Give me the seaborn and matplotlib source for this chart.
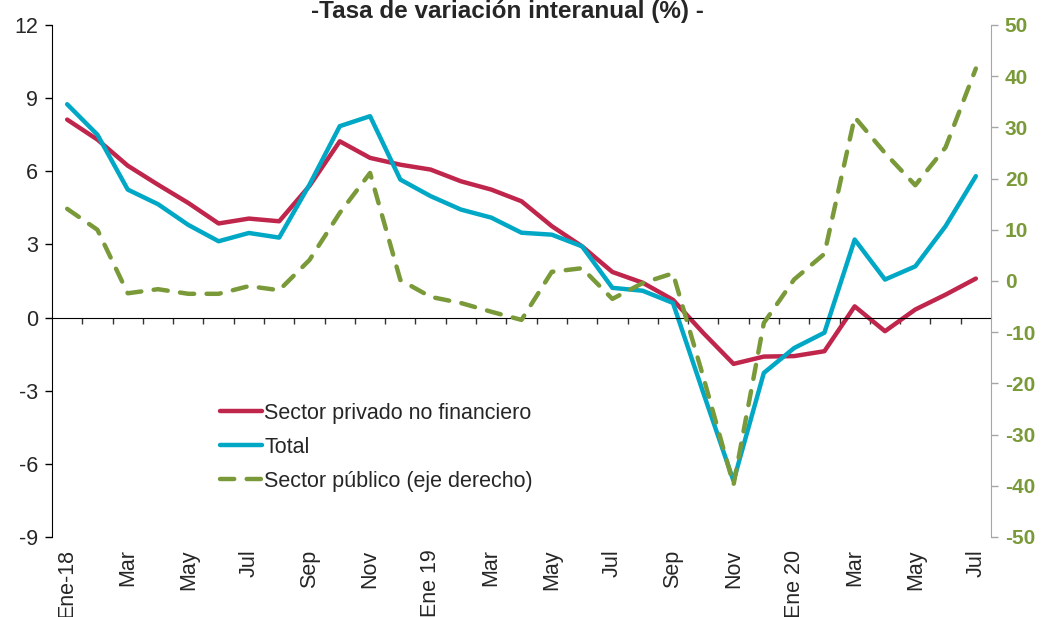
import numpy as np
import pandas as pd
import matplotlib
matplotlib.use("Agg")
import matplotlib.pyplot as plt
import seaborn as sns

# crédito: tasa de variación interanual (%), mensual ene-18 .. jul-20
meses = np.arange(31)
etiquetas = ['Ene-18', 'Mar', 'May', 'Jul', 'Sep', 'Nov', 'Ene 19', 'Mar', 'May', 'Jul',
             'Sep', 'Nov', 'Ene 20', 'Mar', 'May', 'Jul']
privado = [8.12, 7.3, 6.23, 5.45, 4.7, 3.86, 4.06, 3.95, 5.4, 7.23, 6.55, 6.27, 6.07, 5.59,
           5.25, 4.77, 3.75, 2.92, 1.87, 1.43, 0.73, -0.63, -1.9, -1.6, -1.58, -1.38, 0.46,
           -0.56, 0.33, 0.94, 1.6]
total = [8.75, 7.5, 5.25, 4.65, 3.8, 3.13, 3.47, 3.28, 5.45, 7.85, 8.26, 5.66, 4.98, 4.43,
         4.1, 3.48, 3.4, 2.92, 1.22, 1.1, 0.6, -3.08, -6.7, -2.27, -1.25, -0.62, 3.2, 1.56,
         2.1, 3.75, 5.8]
publico = [14.1, 10.0, -2.4, -1.6, -2.5, -2.5, -1.0, -1.8, 4.1, 13.3, 21.1, 0.2, -3.1, -4.3,
           -6.0, -7.6, 1.8, 2.5, -3.5, -0.4, 1.5, -18.7, -39.8, -8.2, 0.3, 5.3, 32.0, 25.0,
           18.7, 26.1, 41.5]

df = pd.DataFrame({'mes': meses, 'privado': privado, 'total': total, 'publico': publico})

sns.set_style("white")
plt.rcParams['font.family'] = ['Liberation Sans', 'DejaVu Sans']
plt.rcParams['axes.unicode_minus'] = False

rojo, cian, verde = '#C0254C', '#00A8C6', '#7A9A3A'

fig = plt.figure(figsize=(10.45, 6.17), dpi=100)
ax = fig.add_axes([52/1045, 1-537/617, (991-52)/1045, (537-25)/617])
ax2 = ax.twinx()

sns.lineplot(data=df, x='mes', y='privado', ax=ax, color=rojo, lw=3.2,
             solid_capstyle='round', solid_joinstyle='round')
sns.lineplot(data=df, x='mes', y='total', ax=ax, color=cian, lw=3.2,
             solid_capstyle='round', solid_joinstyle='round')
sns.lineplot(data=df, x='mes', y='publico', ax=ax2, color=verde, lw=3.2,
             linestyle=(0, (3.2, 2.8)), dash_capstyle='round', dash_joinstyle='round')

ax.set_xlim(-0.5, 30.5)
ax.set_ylim(-9, 12)
ax2.set_ylim(-50, 50)
ax.set_yticks(np.arange(-9, 13, 3))
ax2.set_yticks(np.arange(-50, 51, 10))
ax.set_xlabel(''); ax.set_ylabel(''); ax2.set_ylabel('')

# eje x en cero con marcas entre meses
ax.spines['bottom'].set_position(('data', 0))
ax.spines['bottom'].set_color('black')
ax.spines['top'].set_visible(False)
ax.spines['right'].set_visible(False)
ax.spines['left'].set_color('black')
ax.set_xticks(np.arange(0.5, 30, 1))
ax.tick_params(axis='x', bottom=True, direction='out', length=4, width=1, color='#333333',
               labelbottom=False)
ax.tick_params(axis='y', left=True, direction='out', length=5, width=1, color='black',
               labelsize=15.5, pad=5)

for s in ['top', 'bottom', 'left']:
    ax2.spines[s].set_visible(False)
ax2.spines['right'].set_color('#A6A6A6')
ax2.tick_params(axis='y', right=True, direction='out', length=5, width=1, color='#A6A6A6',
                labelsize=15, labelcolor=verde, pad=5)
for t in ax2.get_yticklabels():
    t.set_fontweight('bold')

sec = ax.secondary_xaxis(0)
sec.set_xticks(meses[::2])
sec.set_xticklabels(etiquetas, rotation=90, fontsize=15.5, va='top', ha='center')
sec.tick_params(length=0, pad=9)
sec.spines['bottom'].set_visible(False)

handles = ax.get_lines()[:2] + ax2.get_lines()[:1]
labels = ['Sector privado no financiero', 'Total', 'Sector público (eje derecho)']
ax2.legend(handles, labels, loc='upper left', bbox_to_anchor=(209/1045, 1-392/617),
           bbox_transform=fig.transFigure, frameon=False, fontsize=15.5, borderpad=0,
           handlelength=1.95, handletextpad=0.12, labelspacing=0.6)

fig.text(507/1045, 1-18/617, '-Tasa de variación interanual (%) -', ha='center',
         va='baseline', fontsize=17.5, fontweight='bold')

fig.savefig('out.png', dpi=100)
